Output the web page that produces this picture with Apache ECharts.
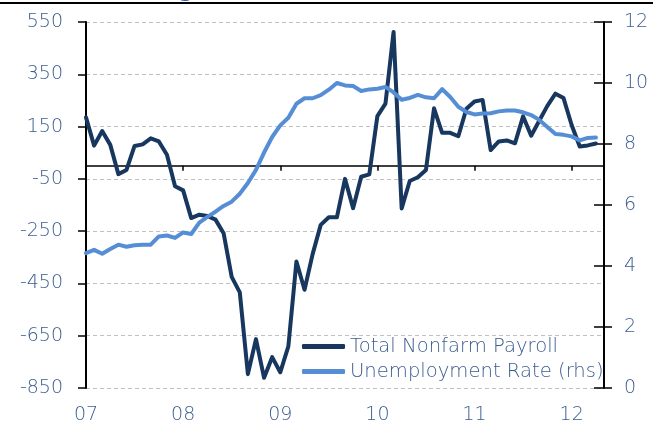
<!DOCTYPE html>
<html>
<head>
<meta charset="utf-8">
<script src="https://cdn.jsdelivr.net/npm/echarts@6/dist/echarts.min.js"></script>
<style>
  html, body { margin: 0; padding: 0; background: #fff; }
  #chart { width: 653px; height: 425px; }
</style>
</head>
<body>
<div id="chart"></div>
<script>
// months Jan 2007 .. May 2012 (axis runs one month past the last point)
const months = [];
for (let y = 2007; y <= 2012; y++) {
  for (let m = 1; m <= 12; m++) {
    if (y === 2012 && m > 5) break;
    months.push(y + '-' + String(m).padStart(2, '0'));
  }
}

// Total Nonfarm Payroll, monthly change (thousands), lhs
const payroll = [
  185, 77, 133, 80, -32, -16, 76, 82, 105, 93, 42, -78,
  -94, -200, -187, -192, -206, -258, -425, -484, -797, -663, -811, -732,
  -790, -691, -366, -474, -338, -226, -197, -197, -50, -162, -42, -33,
  190, 238, 512, -163, -58, -44, -16, 220, 126, 126, 113, 218,
  246, 252, 60, 93, 97, 86, 189, 115, 172, 229, 276, 259,
  156, 74, 78, 85
];

// Unemployment Rate (%), rhs
const unemployment = [
  4.42, 4.53, 4.40, 4.56, 4.70, 4.63, 4.68, 4.70, 4.70, 4.97, 5.00, 4.92,
  5.10, 5.05, 5.42, 5.61, 5.78, 5.97, 6.11, 6.37, 6.72, 7.15, 7.72, 8.23,
  8.61, 8.86, 9.32, 9.50, 9.50, 9.60, 9.78, 10.0, 9.92, 9.90, 9.74, 9.79,
  9.81, 9.87, 9.69, 9.45, 9.51, 9.61, 9.53, 9.50, 9.80, 9.54, 9.22, 9.05,
  8.97, 9.00, 9.01, 9.07, 9.10, 9.10, 9.04, 8.95, 8.79, 8.56, 8.33, 8.30,
  8.25, 8.12, 8.20, 8.21
];

const leftMin = -850, leftMax = 550, leftStep = 200;
const rightMin = 0, rightMax = 12, rightStep = 2;

const labelColor = '#3b5c90';
const font = 'DejaVu Sans';
const darkBlue = '#17375e';
const lightBlue = '#558ed5';

const chart = echarts.init(document.getElementById('chart'));

const labelText = { fontFamily: font, fontSize: 19, fontWeight: 300, color: labelColor };

const option = {
  animation: false,
  grid: { left: 86, right: 49, top: 22, bottom: 37 },
  graphic: [
    { type: 'rect', shape: { x: 0, y: 2, width: 653, height: 2 }, style: { fill: '#000' } },
    { type: 'text', style: { text: 'g', x: 179, y: 1.5, fill: '#1f5fae', font: 'bold 20px "DejaVu Sans"', verticalAlign: 'bottom' } }
  ],
  legend: {
    orient: 'vertical',
    left: 297,
    top: 331,
    itemWidth: 43,
    itemHeight: 5,
    itemGap: 4,
    icon: 'roundRect',
    textStyle: Object.assign({}, labelText, { fontSize: 19.6, lineHeight: 21 }),
    data: ['Total Nonfarm Payroll', 'Unemployment Rate (rhs)']
  },
  xAxis: [
    {
      type: 'category',
      data: months,
      boundaryGap: false,
      position: 'bottom',
      axisLine: { onZero: true, onZeroAxisIndex: 3, lineStyle: { color: '#000', width: 1.5 } },
      axisTick: { interval: (i) => i % 12 === 0, length: 5, lineStyle: { color: '#000', width: 1.5 } },
      axisLabel: { show: false },
      splitLine: { show: false }
    },
    {
      type: 'category',
      data: months,
      boundaryGap: false,
      position: 'bottom',
      axisLine: { show: false, onZero: false },
      axisTick: { show: false },
      axisLabel: Object.assign({
        interval: (i) => i % 12 === 0,
        formatter: (v) => v.slice(2, 4),
        margin: 18
      }, labelText),
      splitLine: { show: false }
    }
  ],
  yAxis: [
    {
      // visible left scale, shifted so ticks start at -850
      type: 'value',
      position: 'left',
      min: 0, max: leftMax - leftMin, interval: leftStep,
      axisLine: { show: true, lineStyle: { color: '#000', width: 2 } },
      axisTick: { show: true, length: 8, lineStyle: { color: '#000', width: 1.5 } },
      axisLabel: Object.assign({
        formatter: (v) => String(v + leftMin),
        margin: 23
      }, labelText),
      splitLine: { show: true, lineStyle: { color: '#c0c0c0', type: [4, 3], width: 1 } }
    },
    {
      type: 'value',
      position: 'right',
      min: rightMin, max: rightMax, interval: rightStep,
      axisLine: { show: true, lineStyle: { color: '#000', width: 2 } },
      axisTick: { show: true, length: 8, lineStyle: { color: '#000', width: 1.5 } },
      axisLabel: Object.assign({ margin: 20 }, labelText),
      splitLine: { show: false }
    },
    {
      // inner half of the crossing ticks on the right
      type: 'value',
      position: 'right',
      min: rightMin, max: rightMax, interval: rightStep,
      axisLine: { show: false },
      axisTick: { show: true, inside: true, length: 10, lineStyle: { color: '#000', width: 1.5 } },
      axisLabel: { show: false },
      splitLine: { show: false }
    },
    {
      // real payroll scale, hidden
      type: 'value',
      position: 'left',
      min: leftMin, max: leftMax,
      show: false,
      splitLine: { show: false }
    }
  ],
  series: [
    {
      name: 'Total Nonfarm Payroll',
      type: 'line',
      xAxisIndex: 0,
      yAxisIndex: 3,
      data: payroll,
      showSymbol: false,
      color: darkBlue,
      lineStyle: { color: darkBlue, width: 4, cap: 'round', join: 'round' }
    },
    {
      name: 'Unemployment Rate (rhs)',
      type: 'line',
      xAxisIndex: 0,
      yAxisIndex: 1,
      data: unemployment,
      showSymbol: false,
      color: lightBlue,
      lineStyle: { color: lightBlue, width: 4, cap: 'round', join: 'round' }
    }
  ]
};

chart.setOption(option);
</script>
</body>
</html>
